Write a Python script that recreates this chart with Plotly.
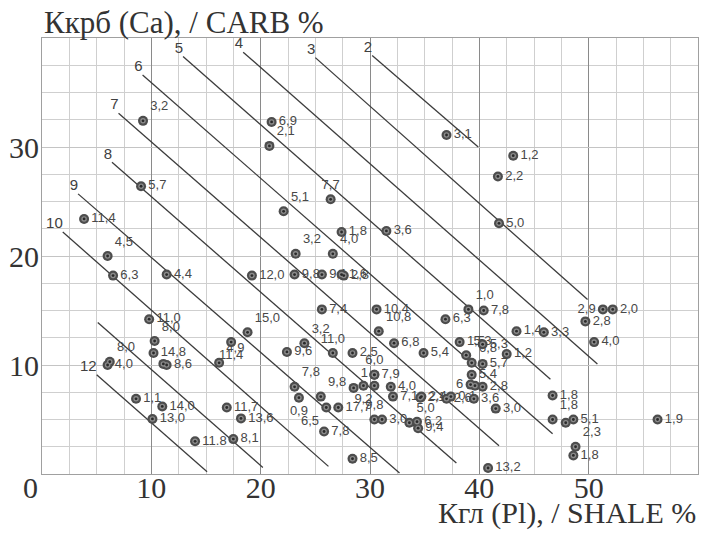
import plotly.graph_objects as go

# ---------------- data ----------------
# points: Kгл (Pl, shale %) on x, Kкрб (Ca, carb %) on y, with value labels
pl = [9.24, 21.0, 20.8, 37.0, 43.1, 41.7, 41.8, 26.4, 22.1, 27.4,
      31.5, 23.2, 26.6, 23.1, 25.6, 27.4, 27.6, 19.2, 18.8, 25.6,
      30.6, 30.8, 32.2, 34.9, 28.4, 26.6, 24.0, 22.4, 36.9, 39.0,
      40.4, 43.4, 45.9, 51.3, 52.2, 49.7, 50.5, 38.2, 40.3, 42.5,
      38.8, 39.3, 40.3, 39.3, 39.2, 39.6, 40.3, 34.6, 34.7, 37.0,
      37.4, 39.5, 41.5, 46.7, 46.7, 47.9, 48.6, 56.3, 48.8, 48.6,
      40.8, 9.06, 3.85, 6.0, 6.5, 11.4, 9.8, 10.3, 10.2, 11.1,
      11.4, 6.2, 6.0, 8.6, 11.0, 10.1, 14.0, 17.5, 17.3, 16.2,
      16.9, 18.2, 23.1, 23.5, 25.5, 26.0, 27.1, 25.8, 28.4, 30.4,
      31.1, 33.6, 34.3, 34.4, 28.5, 29.4, 30.4, 30.4, 30.4, 31.9,
      32.1]
ca = [32.4, 32.3, 30.1, 31.1, 29.2, 27.3, 23.0, 25.2, 24.1, 22.2,
      22.3, 20.2, 20.2, 18.3, 18.3, 18.3, 18.2, 18.2, 13.0, 15.1,
      15.1, 13.1, 12.0, 11.1, 11.1, 11.1, 12.0, 11.2, 14.2, 15.1,
      15.0, 13.1, 13.0, 15.1, 15.1, 14.0, 12.1, 12.1, 11.9, 11.0,
      10.9, 10.2, 10.1, 9.1, 8.2, 8.1, 8.0, 7.0, 7.1, 6.9,
      7.1, 6.9, 6.0, 7.2, 5.0, 4.7, 5.0, 5.0, 2.5, 1.7,
      0.55, 26.4, 23.4, 20.0, 18.2, 18.3, 14.2, 12.2, 11.1, 10.1,
      10.0, 10.3, 10.0, 6.9, 6.2, 5.05, 3.0, 3.2, 12.1, 10.2,
      6.1, 5.1, 8.0, 7.0, 7.1, 6.1, 6.1, 3.9, 1.4, 5.0,
      5.0, 4.7, 4.8, 4.2, 7.9, 8.1, 9.1, 9.1, 8.1, 8.0,
      7.1]
point_labels = ["3,2", "6,9", "2,1", "3,1", "1,2", "2,2", "5,0", "7,7", "5,1", "1,8",
                "3,6", "3,2", "4,0", "9,8", "9,1", "1,6", "2,8", "12,0", "15,0", "7,4",
                "10,4", "10,8", "6,8", "5,4", "2,5", "11,0", "3,2", "9,6", "6,3", "1,0",
                "7,8", "1,4", "3,3", "2,9", "2,0", "2,8", "4,0", "1,5", "5,3", "1,2",
                "5,3", "6,8", "5,7", "5,4", "6", "", "2,8", "2,1", "2,4", "2,6",
                "0,1", "3,6", "3,0", "1,8", "1,8", "", "5,1", "1,9", "2,3", "1,8",
                "13,2", "5,7", "11,4", "4,5", "6,3", "4,4", "11,0", "8,0", "14,8", "",
                "8,6", "8,0", "4,0", "1,1", "14,0", "13,0", "11.8", "8,1", "11,4", "4,9",
                "11,7", "13,6", "7,8", "0,9", "9,8", "6,5", "17,7", "7,8", "8,5", "9,8",
                "3,0", "5,0", "6,2", "9,4", "1", "9,2", "7,9", "6,0", "", "4,0",
                "7,1"]

# iso-lines: label, start (Pl, Ca) and end (Pl, Ca)
line_labels = ["2", "3", "4", "5", "6", "7", "8", "9", "10", "", "12"]
line_x0 = [30.2, 25.0, 18.4, 12.9, 9.2, 7.0, 6.4, 3.3, 1.9, 5.1, 5.0]
line_y0 = [38.4, 38.2, 38.7, 38.3, 36.6, 33.1, 28.6, 25.7, 22.2, 13.9, 9.1]
line_x1 = [39.9, 49.9, 50.8, 46.5, 46.7, 41.8, 37.9, 32.7, 26.2, 20.2, 15.1]
line_y1 = [30.0, 16.0, 10.1, 8.7, 3.7, 2.6, 1.0, 0.1, 0.7, 0.6, 0.2]

x_ticks = [10, 20, 30, 40, 50]
y_ticks = [10, 20, 30]

# ---------------- styling ----------------
label_pos = ["top right", "middle right", "top right", "middle right", "middle right",
             "middle right", "middle right", "top center", "top right", "middle right",
             "middle right", "top right", "top right", "middle right", "middle right",
             "middle right", "middle right", "middle right", "top right", "middle right",
             "middle right", "top right", "middle right", "middle right", "middle right",
             "top center", "top right", "middle right", "middle right", "top right",
             "middle right", "middle right", "middle right", "middle left", "middle right",
             "middle right", "middle right", "middle right", "middle right", "middle right",
             "top right", "top right", "middle right", "middle right", "middle left",
             "middle right", "middle right", "middle right", "middle right", "middle right",
             "middle right", "middle right", "middle right", "middle right", "top right",
             "middle right", "middle right", "middle right", "top right", "middle right",
             "middle right", "middle right", "middle right", "top right", "middle right",
             "middle right", "middle right", "top right", "middle right", "middle right",
             "middle right", "top right", "middle right", "middle right", "middle right",
             "middle right", "middle right", "middle right", "bottom center", "top right",
             "middle right", "middle right", "top right", "bottom center", "top right",
             "bottom left", "middle right", "middle right", "middle right", "top center",
             "middle right", "top right", "middle right", "middle right", "top right",
             "bottom center", "middle right", "top center", "middle right", "middle right",
             "middle right"]

SERIF = "Liberation Serif, Times New Roman, serif"
SANS = "Liberation Sans, Arial, sans-serif"

fig = go.Figure()

# iso-lines
lx, ly = [], []
for a, b, c, d in zip(line_x0, line_y0, line_x1, line_y1):
    lx += [a, c, None]
    ly += [b, d, None]
fig.add_trace(go.Scatter(x=lx, y=ly, mode="lines",
                         line=dict(color="#3c3c3c", width=1.3),
                         hoverinfo="skip", showlegend=False))
fig.add_trace(go.Scatter(x=line_x0, y=line_y0, mode="text", text=line_labels,
                         textposition="top left",
                         textfont=dict(family=SANS, size=15, color="#404040"),
                         hoverinfo="skip", showlegend=False))

# points (bullseye look: dark disk, light ring, dark centre)
fig.add_trace(go.Scatter(x=pl, y=ca, mode="markers+text", text=point_labels,
                         textposition=label_pos,
                         textfont=dict(family=SANS, size=13, color="#484848"),
                         marker=dict(size=10, color="#4d4d4d"),
                         cliponaxis=False, showlegend=False))
fig.add_trace(go.Scatter(x=pl, y=ca, mode="markers",
                         marker=dict(size=5.5, color="#8c8c8c"),
                         hoverinfo="skip", showlegend=False))
fig.add_trace(go.Scatter(x=pl, y=ca, mode="markers",
                         marker=dict(size=2.8, color="#2a2a2a"),
                         hoverinfo="skip", showlegend=False))

fig.update_layout(
    width=702, height=534,
    margin=dict(l=42, r=4, t=38, b=60),
    paper_bgcolor="white", plot_bgcolor="white",
    showlegend=False,
    xaxis=dict(range=[0, 60], tickmode="array", tickvals=x_ticks,
               ticks="", showgrid=True, gridcolor="#8a8a8a", gridwidth=1,
               minor=dict(dtick=2.5, tick0=0, showgrid=True, gridcolor="#cfcfcf", gridwidth=1),
               showline=True, mirror=True, linecolor="#a0a0a0", linewidth=1,
               zeroline=False, ticklabelstandoff=-13,
               tickfont=dict(family=SERIF, size=30, color="#333333")),
    yaxis=dict(range=[0, 40], tickmode="array", tickvals=y_ticks,
               ticks="", showgrid=True, gridcolor="#c4c4c4", gridwidth=1,
               minor=dict(dtick=2.5, tick0=0, showgrid=True, gridcolor="#cfcfcf", gridwidth=1),
               showline=True, mirror=True, linecolor="#a0a0a0", linewidth=1,
               zeroline=False, ticklabelstandoff=-4,
               tickfont=dict(family=SERIF, size=30, color="#333333")),
    annotations=[
        dict(text="Ккрб (Ca), / CARB %", xref="paper", yref="paper", x=0, y=1,
             xanchor="left", yanchor="bottom", showarrow=False, yshift=-4,
             font=dict(family=SERIF, size=31, color="#333333")),
        dict(text="Кгл (Pl), / SHALE %", xref="paper", yref="paper", x=1, y=0,
             xanchor="right", yanchor="top", showarrow=False, yshift=-20,
             font=dict(family=SERIF, size=30, color="#333333")),
        dict(text="0", xref="x", yref="y", x=0, y=0, xanchor="center", yanchor="top",
             showarrow=False, xshift=-12, yshift=5,
             font=dict(family=SERIF, size=30, color="#333333")),
    ],
)

fig.write_html("out.html")
